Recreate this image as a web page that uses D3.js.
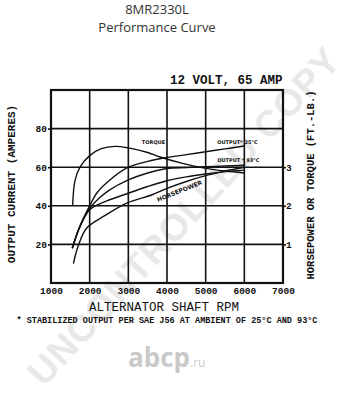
<!DOCTYPE html>
<html><head><meta charset="utf-8">
<script src="https://cdn.jsdelivr.net/npm/d3@7"></script>
<style>body{margin:0;background:#fff}svg{display:block}</style>
</head><body>
<svg id="c" width="357" height="400"></svg>
<script>
// ---- data ----
const xTicks = [1000,2000,3000,4000,5000,6000,7000];
const yLeftTicks = [20,40,60,80];
const yRightTicks = [1,2,3];
const out25Rpm = [1550,1700,1850,2000,2200,2500,3000,3500,4000,4500,5000,5500,6000];
const out25Amp = [18,27,34,40,47,53,60,63,65,66.5,68,69.5,71];
const out93Rpm = [1550,1700,1850,2000,2250,2500,3000,3500,4000,4500,5000,5500,6000];
const out93Amp = [18,27,33.5,38.7,44,48,53.4,57,59.3,59.8,60.2,60.6,61];
const thirdRpm = [1550,1700,1850,2000,2200,2500,3000,3500,4000,4500,5000,5500,6000];
const thirdAmp = [18,27,33.5,38,40.5,43,46.5,50,53,55,56.5,57.7,58.5];
const torqueRpm = [1560,1620,1750,2000,2300,2650,3000,3500,3800,4400,5000,5500,6000];
const torqueFtLb = [2.0,2.65,3.0,3.3,3.48,3.54,3.5,3.38,3.27,3.1,2.97,2.9,2.85];
const hpRpm = [1580,1700,1920,2400,2960,3600,4000,4500,5000,5500,6000];
const hpVal = [0.5,0.95,1.42,1.75,2.07,2.28,2.45,2.63,2.78,2.9,3.0];

const svg = d3.select("#c");
const L=51, R=283, T=90, B=283;
const x = d3.scaleLinear().domain([1000,7000]).range([L,R]);
const y = d3.scaleLinear().domain([0,100]).range([B,T]);
const y2 = d3.scaleLinear().domain([0,5]).range([B,T]);
const mono = "'Liberation Mono','DejaVu Sans Mono',monospace";

// watermark (behind)
const wm = svg.append("g").attr("transform","translate(44,388) rotate(-47.5)");
wm.append("text").text("UNCONTROLLED COPY").attr("font-family","'Liberation Sans',Arial,sans-serif")
  .attr("font-weight","bold").attr("font-size",37).attr("fill","#e8e8e8").attr("letter-spacing",1);
svg.append("text").attr("x",128).attr("y",367).attr("font-family","'Open Sans',sans-serif")
  .attr("font-size",26).attr("fill","#c9c9c9").attr("font-weight","bold").text("abcp")
  .append("tspan").attr("font-size",12).attr("font-weight","normal").text(".ru");

// titles
svg.append("text").attr("x",157).attr("y",14).attr("text-anchor","middle")
  .attr("font-family","'Open Sans',sans-serif").attr("font-size",13).attr("fill","#333").text("8MR2330L");
svg.append("text").attr("x",157).attr("y",32).attr("text-anchor","middle")
  .attr("font-family","'Open Sans',sans-serif").attr("font-size",13).attr("fill","#333").text("Performance Curve");
svg.append("text").attr("x",170).attr("y",84).attr("font-family",mono).attr("font-weight","bold")
  .attr("font-size",12.5).attr("fill","#111").text("12 VOLT, 65 AMP");

// grid
const g = svg.append("g");
g.selectAll(".vx").data(xTicks.slice(1,-1)).join("line")
  .attr("x1",d=>x(d)).attr("x2",d=>x(d)).attr("y1",T).attr("y2",B)
  .attr("stroke","#111").attr("stroke-width",1.6);
g.selectAll(".hy").data([20,40,60,80]).join("line")
  .attr("x1",L).attr("x2",R).attr("y1",d=>y(d)).attr("y2",d=>y(d))
  .attr("stroke","#111").attr("stroke-width",1.6);
g.append("rect").attr("x",L).attr("y",T).attr("width",R-L).attr("height",B-T)
  .attr("fill","none").attr("stroke","#111").attr("stroke-width",2.2);

// axes
const xAxis = d3.axisBottom(x).tickValues(xTicks).tickFormat(d3.format("d")).tickSize(0).tickPadding(4);
const ax = svg.append("g").attr("transform",`translate(0,${B})`).call(xAxis);
const yAxis = d3.axisLeft(y).tickValues(yLeftTicks).tickFormat(d3.format("d")).tickSize(3).tickPadding(1);
const ay = svg.append("g").attr("transform",`translate(${L},0)`).call(yAxis);
const y2Axis = d3.axisRight(y2).tickValues(yRightTicks).tickFormat(d3.format("d")).tickSize(3).tickPadding(0);
const ay2 = svg.append("g").attr("transform",`translate(${R},0)`).call(y2Axis);
[ax,ay,ay2].forEach(a=>{
  a.select(".domain").remove();
  a.selectAll("line").attr("stroke","#111").attr("stroke-width",1.6);
  a.selectAll("text").attr("font-family",mono).attr("font-weight","bold").attr("font-size",9.5).attr("fill","#111");
});

// axis titles
svg.append("text").attr("transform","translate(15,184) rotate(-90)").attr("text-anchor","middle")
  .attr("font-family",mono).attr("font-weight","bold").attr("font-size",11).attr("fill","#111")
  .text("OUTPUT CURRENT (AMPERES)");
svg.append("text").attr("transform","translate(314,185) rotate(-90)").attr("text-anchor","middle")
  .attr("font-family",mono).attr("font-weight","bold").attr("font-size",10.5).attr("fill","#111")
  .text("HORSEPOWER OR TORQUE (FT.-LB.)");
svg.append("text").attr("x",164).attr("y",311).attr("text-anchor","middle")
  .attr("font-family",mono).attr("font-size",12.5).attr("fill","#111")
  .text("ALTERNATOR SHAFT RPM");
svg.append("text").attr("x",167).attr("y",323).attr("text-anchor","middle")
  .attr("font-family",mono).attr("font-weight","bold").attr("font-size",8.5).attr("fill","#111")
  .text("* STABILIZED OUTPUT PER SAE J56 AT AMBIENT OF 25°C AND 93°C");

// curves
const mk = (xs,ys,sc)=> xs.map((r,i)=>[x(r),sc(ys[i])]);
const line = d3.line().curve(d3.curveCatmullRom.alpha(0.5));
const curves = [mk(out25Rpm,out25Amp,y), mk(out93Rpm,out93Amp,y), mk(thirdRpm,thirdAmp,y),
  mk(torqueRpm,torqueFtLb,y2), mk(hpRpm,hpVal,y2)];
svg.append("g").selectAll("path").data(curves).join("path").attr("d",line)
  .attr("fill","none").attr("stroke","#111").attr("stroke-width",1.4);

// curve labels
const lab = (tx,ty,t,rot,fs)=>svg.append("text").attr("transform",`translate(${tx},${ty}) rotate(${rot||0})`)
  .attr("font-family","'DejaVu Sans',sans-serif").attr("font-weight","bold").attr("font-size",fs||5)
  .attr("fill","#111").text(t);
lab(x(3350),144,"TORQUE");
lab(x(5300),144,"OUTPUT*  25°C");
lab(x(5300),162,"OUTPUT *  93°C");
lab(x(3770),202,"HORSEPOWER",-22,6);
</script>
</body></html>
